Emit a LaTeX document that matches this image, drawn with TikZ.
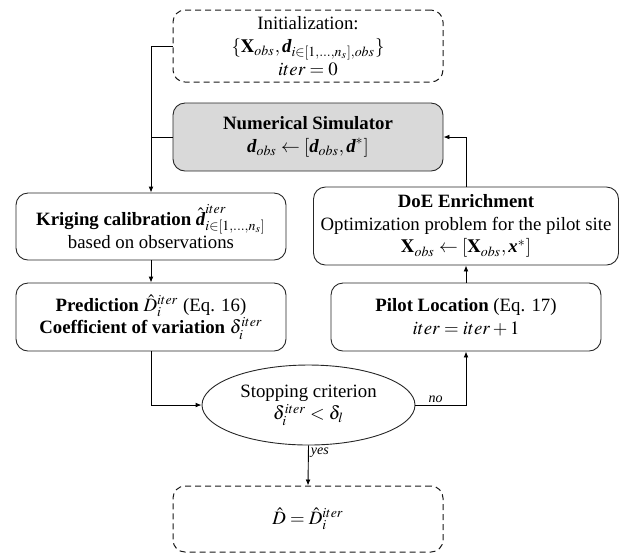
\documentclass[tikz,border=0pt]{standalone}
\usepackage{amsmath}
\usepackage{mathptmx}
\usepackage{fontspec}
\setmainfont{Liberation Serif}
\usetikzlibrary{arrows.meta,shapes.geometric,calc}
\newcommand{\bvec}[1]{\text{\bfseries\itshape #1}}

\begin{document}
\begin{tikzpicture}[x=0.5pt, y=-0.5pt, font=\fontsize{9.4}{11.4}\selectfont, >={Latex[length=3pt,width=2.4pt]}, line width=0.45pt,
  box/.style={draw=black!85, rounded corners=6pt, align=center, minimum width=135pt, minimum height=34pt, inner sep=2pt},
  dashbox/.style={box, draw=black!90, line width=0.5pt, dash pattern=on 3pt off 2pt},
  simbox/.style={box, fill=black!15},
  crit/.style={draw=black!85, ellipse, align=center, minimum width=106.5pt, minimum height=40pt, inner sep=0pt},
  lbl/.style={font=\fontsize{7}{8}\selectfont\itshape, inner sep=1pt}]
\useasboundingbox (0,0) rectangle (620,554);
% top of the loop
\node[dashbox, minimum height=36pt] (init) at (308,46) {Initialization:\\ $\{\mathbf{X}_{obs},\bvec{d}_{i\in[1,\dots,n_s],obs}\}$\\ $iter=0$};
\node[simbox] (sim) at (308,137) {\textbf{Numerical Simulator}\\ $\bvec{d}_{obs}\leftarrow[\bvec{d}_{obs},\bvec{d}^*]$};
% left branch
\node[box, minimum height=33.5pt] (krig) at (151,226.5) {\textbf{Kriging calibration} $\hat{\bvec{d}}^{iter}_{i\in[1,\dots,n_s]}$\\ based on observations};
\node[box] (pred) at (151,317) {\textbf{Prediction} $\hat{D}^{iter}_i$ (Eq. 16)\\ \textbf{Coefficient of variation} $\delta^{iter}_i$};
% right branch
\node[box, minimum width=152.5pt, minimum height=39pt] (doe) at (466,226) {\textbf{DoE Enrichment}\\ Optimization problem for the pilot site\\ $\mathbf{X}_{obs}\leftarrow[\mathbf{X}_{obs},\bvec{x}^*]$};
\node[box] (pilot) at (466,317) {\textbf{Pilot Location} (Eq. 17)\\ $iter=iter+1$};
% decision and result
\node[crit] (stop) at (308.5,405) {Stopping criterion\\ $\delta^{iter}_i<\delta_l$};
\node[dashbox, minimum height=33pt] (final) at (308,519) {$\hat{D}=\hat{D}^{iter}_i$};
\draw[->] (init.west) -| (krig.north); \draw (sim.west) -- (sim.west -| krig.north);
\draw[->] (krig) -- (pred); \draw[->] (pred.south) |- (stop.west);
\draw[->] (stop.east) -| node[lbl, pos=0.2, above]{no} (pilot.south); \draw[->] (pilot) -- (doe);
\draw[->] (doe.north) |- (sim.east);
\draw[->] (stop.south) -- node[lbl, pos=0, anchor=north west]{yes} (final.north);
\end{tikzpicture}
\end{document}
